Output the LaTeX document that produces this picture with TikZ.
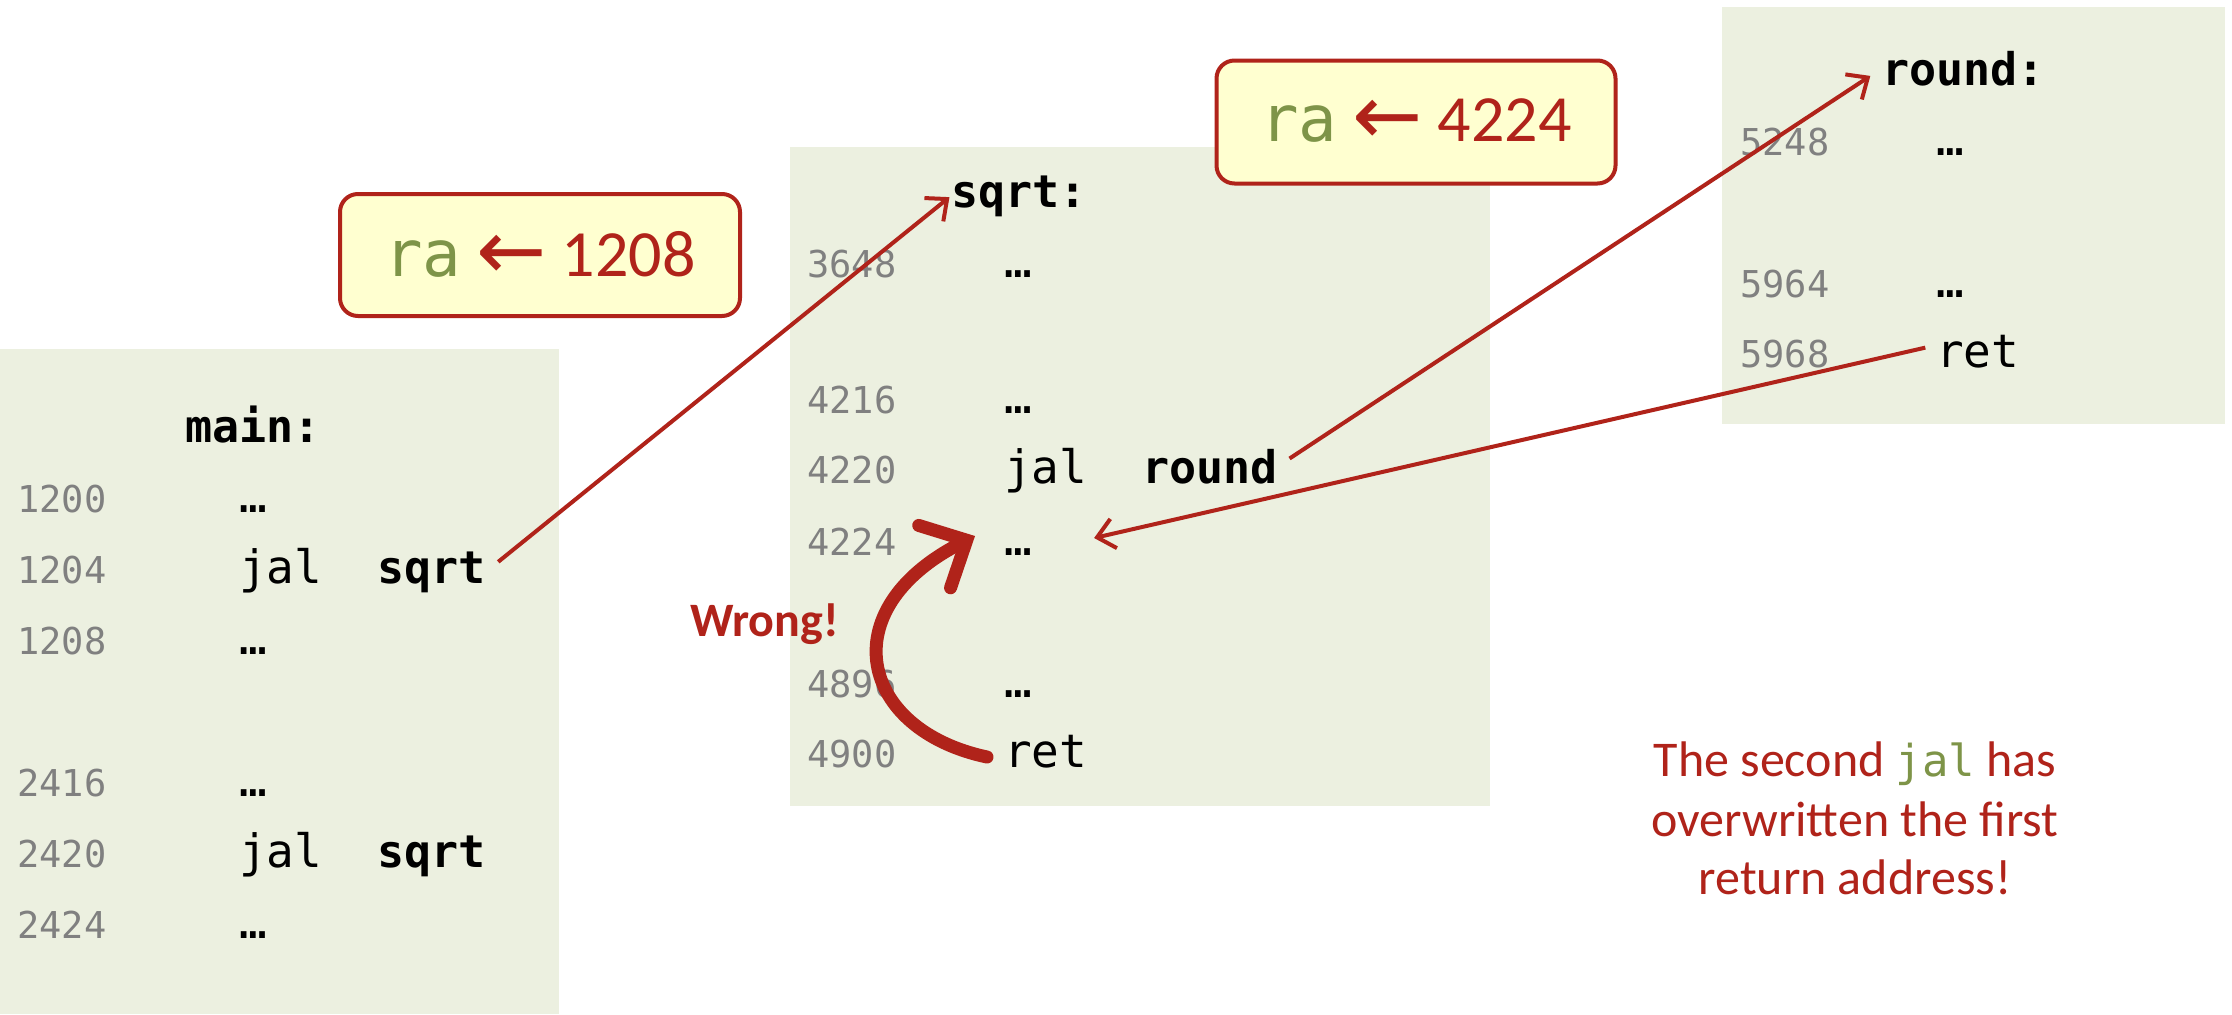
\documentclass[tikz,border=0pt]{standalone}
\usepackage{fontspec}
\setmainfont{Carlito}
\newfontfamily\codefont{DejaVu Sans Mono}
\newfontfamily\arrowfont{DejaVu Sans}
\usetikzlibrary{arrows.meta}
\definecolor{boxgreen}{RGB}{236,240,224}
\definecolor{darkred}{RGB}{176,35,26}
\definecolor{olivegreen}{RGB}{126,148,72}
\definecolor{addrgray}{RGB}{128,128,128}
\definecolor{calloutfill}{RGB}{255,255,208}
\tikzset{
  codebox/.style={fill=boxgreen, draw=none},
  addr/.style={anchor=base west, inner sep=0pt, text=addrgray, font=\codefont\fontsize{37bp}{40bp}\selectfont},
  code/.style={anchor=base west, inner sep=0pt, font=\codefont\fontsize{46bp}{50bp}\selectfont},
  bcode/.style={anchor=base west, inner sep=0pt, font=\codefont\bfseries\fontsize{45bp}{50bp}\selectfont},
  callout/.style={draw=darkred, line width=4bp, fill=calloutfill, rounded corners=18bp, inner sep=0pt, text=darkred, font=\fontsize{66bp}{70bp}\selectfont},
  thinarrow/.style={draw=darkred, line width=4bp, -{Straight Barb[length=17bp,width=30bp]}},
  thickarrow/.style={draw=darkred, line width=13bp, line cap=round, -{Straight Barb[length=36bp,width=70bp,line cap=round]}},
  note/.style={anchor=base, inner sep=0pt, text=darkred, font=\fontsize{50bp}{59bp}\selectfont},
}
\newcommand{\rareg}{\textcolor{olivegreen}{\codefont\fontsize{64bp}{70bp}\selectfont ra}}
\newcommand{\getsarrow}{{\arrowfont\fontsize{84bp}{90bp}\selectfont\raisebox{-3bp}{←}}}
\begin{document}
\begin{tikzpicture}[x=1bp,y=-1bp]
\useasboundingbox (0,0) rectangle (2232,1014);
\fill[white] (0,0) rectangle (2232,1014);
% boxes
\fill[codebox] (0,349) rectangle (559,1014);
\fill[codebox] (790,147) rectangle (1490,806);
\fill[codebox] (1722,7) rectangle (2225,424);
% main
\node[bcode] (mainlbl) at (185,442) {main:};
\node[addr] (a1200) at (17,512) {1200};
\node[code] (d1200) at (239,512) {…};
\node[addr] (a1204) at (17,583) {1204};
\node[code] (j1204) at (239,583) {jal};
\node[bcode] (s1204) at (377,583) {sqrt};
\node[addr] (a1208) at (17,654) {1208};
\node[code] (d1208) at (239,654) {…};
\node[addr] (a2416) at (17,796) {2416};
\node[code] (d2416) at (239,796) {…};
\node[addr] (a2420) at (17,867) {2420};
\node[code] (j2420) at (239,867) {jal};
\node[bcode] (s2420) at (377,867) {sqrt};
\node[addr] (a2424) at (17,938) {2424};
\node[code] (d2424) at (239,938) {…};
% sqrt
\node[bcode] (sqrtlbl) at (951,207) {sqrt:};
\node[addr] (a3648) at (807,277) {3648};
\node[code] (d3648) at (1004,277) {…};
\node[addr] (a4216) at (807,413) {4216};
\node[code] (d4216) at (1004,413) {…};
\node[addr] (a4220) at (807,483) {4220};
\node[code] (j4220) at (1004,483) {jal};
\node[bcode] (r4220) at (1142,483) {round};
\node[addr] (a4224) at (807,555) {4224};
\node[code] (d4224) at (1004,555) {…};
\node[addr] (a4896) at (807,697) {4896};
\node[code] (d4896) at (1004,697) {…};
\node[addr] (a4900) at (807,767) {4900};
\node[code] (ret4900) at (1004,767) {ret};
% round
\node[bcode] (roundlbl) at (1882,85) {round:};
\node[addr] (a5248) at (1740,155) {5248};
\node[code] (d5248) at (1936,155) {…};
\node[addr] (a5964) at (1740,297) {5964};
\node[code] (d5964) at (1936,297) {…};
\node[addr] (a5968) at (1740,367) {5968};
\node[code] (ret5968) at (1936,367) {ret};
% callouts
\node[callout, minimum width=400bp, minimum height=122bp] (c1) at (540,255) {\rareg\ \getsarrow\ 1208};
\node[callout, minimum width=399bp, minimum height=123bp] (c2) at (1416,122) {\rareg\ \getsarrow\ 4224};
% arrows
\draw[thinarrow, shorten <=16bp, shorten >=2bp] (s1204.east) -- (sqrtlbl.west);
\draw[thinarrow, shorten <=14bp, shorten >=14bp] (r4220.east) -- (roundlbl.west);
\coordinate (back4224) at ([shift={(62,-17)}]d4224.base east);
\draw[thinarrow, shorten <=11bp] ([yshift=6bp]ret5968.west) -- (back4224);
\coordinate (wstart) at ([shift={(-17,-10)}]ret4900.base west);
\coordinate (wtip) at ([shift={(-29,-19)}]d4224.base west);
\draw[thickarrow] (wstart) .. controls (860,730) and (830,610) .. (wtip);
\node[anchor=base west, inner sep=0pt, text=darkred, font=\bfseries\fontsize{48bp}{50bp}\selectfont] (wrong) at (690,636) {Wrong!};
% note
\node[note] (n1) at (1855,776) {The second \textcolor{olivegreen}{\codefont\fontsize{44bp}{50bp}\selectfont jal} has};
\node[note] (n2) at (1855,836) {overwritten the first};
\node[note] (n3) at (1855,894) {return address!};
\end{tikzpicture}
\end{document}
